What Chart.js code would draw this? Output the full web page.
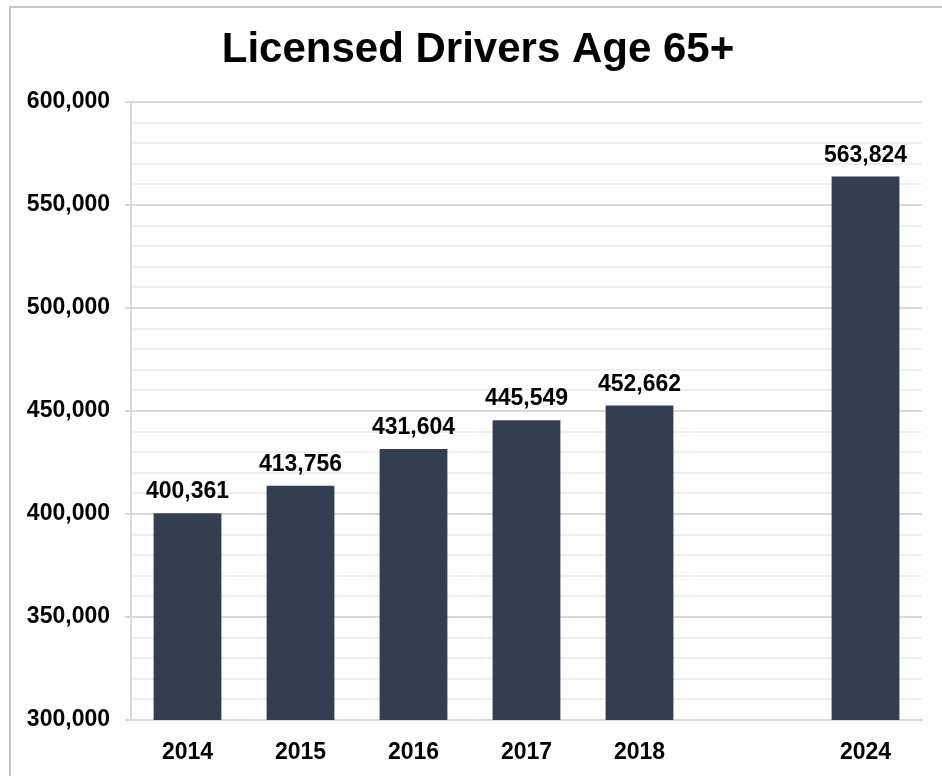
<!DOCTYPE html>
<html>
<head>
<meta charset="utf-8">
<script src="https://cdn.jsdelivr.net/npm/chart.js@4.4.1/dist/chart.umd.min.js"></script>
<style>
  html, body { margin: 0; padding: 0; background: #ffffff; }
  #wrap { position: relative; width: 942px; height: 776px; overflow: hidden; }
  #frame { position: absolute; left: 9px; top: 6px; width: 960px; height: 800px;
           border-left: 2px solid #c6c6c6; border-top: 2px solid #c6c6c6; box-sizing: border-box; }
  canvas { position: absolute; left: 0; top: 0; }
</style>
</head>
<body>
<div id="wrap">
  <div id="frame"></div>
  <canvas id="c" width="942" height="776"></canvas>
</div>
<script>
const titleText = 'Licensed Drivers Age 65+';
const categories = ['2014', '2015', '2016', '2017', '2018', '', '2024'];
const drivers = [400361, 413756, 431604, 445549, 452662, null, 563824];
const yMin = 300000;
const yMax = 600000;
const minorStep = 10000;
const majorStep = 50000;

const FONT = "'Liberation Sans', Arial, sans-serif";

const dataLabels = {
  id: 'dataLabels',
  afterDatasetsDraw(chart) {
    const ctx = chart.ctx;
    const meta = chart.getDatasetMeta(0);
    ctx.save();
    ctx.font = 'bold 23px ' + FONT;
    ctx.fillStyle = '#000000';
    ctx.textAlign = 'center';
    ctx.textBaseline = 'alphabetic';
    meta.data.forEach((bar, i) => {
      const v = chart.data.datasets[0].data[i];
      if (v === null || v === undefined) return;
      ctx.fillText(v.toLocaleString('en-US'), bar.x, bar.y - 15);
    });
    ctx.restore();
  }
};

const chartTitle = {
  id: 'chartTitle',
  afterDraw(chart) {
    const ctx = chart.ctx;
    ctx.save();
    ctx.font = 'bold 42px ' + FONT;
    ctx.fillStyle = '#000000';
    ctx.textAlign = 'center';
    ctx.textBaseline = 'alphabetic';
    ctx.fillText(titleText, 478, 62);
    ctx.restore();
  }
};

new Chart(document.getElementById('c'), {
  type: 'bar',
  data: {
    labels: categories,
    datasets: [{
      data: drivers,
      backgroundColor: '#333f50',
      borderWidth: 0,
      barPercentage: 0.6,
      categoryPercentage: 1.0
    }]
  },
  options: {
    responsive: false,
    animation: false,
    devicePixelRatio: 1,
    layout: { padding: { left: 14, right: 20, top: 102, bottom: 0 } },
    plugins: {
      legend: { display: false },
      tooltip: { enabled: false },
      title: { display: false }
    },
    scales: {
      x: {
        grid: { display: false, drawTicks: false },
        border: { display: true, color: '#d9d9d9', width: 2 },
        ticks: {
          color: '#000000',
          font: { family: FONT, size: 23, weight: 'bold' },
          padding: 19,
          autoSkip: false,
          maxRotation: 0
        },
        afterFit(scale) { scale.height = 56; }
      },
      y: {
        min: yMin,
        max: yMax,
        grid: {
          color: (c) => (c.tick && c.tick.value % majorStep === 0) ? '#d9d9d9' : '#efefef',
          lineWidth: 2,
          tickColor: (c) => (c.tick && c.tick.value % majorStep === 0) ? '#d9d9d9' : 'rgba(0,0,0,0)',
          tickLength: 6
        },
        border: { display: true, color: '#d9d9d9', width: 2 },
        ticks: {
          stepSize: minorStep,
          autoSkip: false,
          color: '#000000',
          font: { family: FONT, size: 23, weight: 'bold' },
          padding: 15,
          callback: (v) => (v % majorStep === 0) ? Number(v).toLocaleString('en-US') : ''
        },
        afterFit(scale) { scale.width = 117; }
      }
    }
  },
  plugins: [dataLabels, chartTitle]
});
</script>
</body>
</html>
